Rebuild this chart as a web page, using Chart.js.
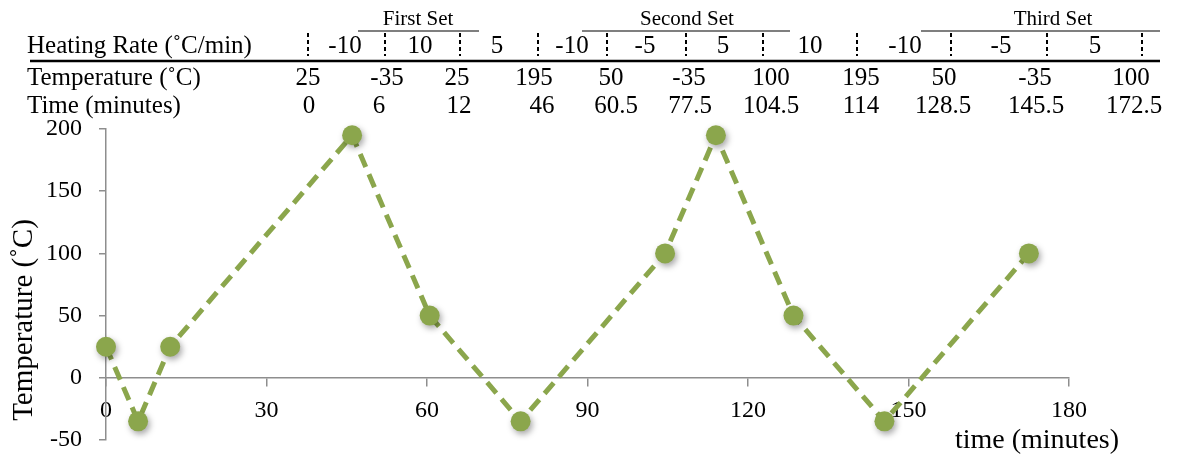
<!DOCTYPE html>
<html>
<head>
<meta charset="utf-8">
<title>Heating programme</title>
<script src="https://cdn.jsdelivr.net/npm/chart.js@4/dist/chart.umd.min.js"></script>
<style>
  html, body { margin: 0; padding: 0; background: #ffffff; }
  #wrap { position: relative; width: 1177px; height: 455px; }
</style>
</head>
<body>
<div id="wrap"><canvas id="chart" width="1177" height="455"></canvas></div>
<script>
// Temperature programme: time (min) and temperature (°C) at each step
const times = [0, 6, 12, 46, 60.5, 77.5, 104.5, 114, 128.5, 145.5, 172.5];
const temps = [25, -35, 25, 195, 50, -35, 100, 195, 50, -35, 100];
// Heating rate (°C/min) of each segment between steps
const rates = ['-10', '10', '5', '-10', '-5', '5', '10', '-10', '-5', '5'];
// Grouping headers over the rate row
const setNames = ['First Set', 'Second Set', 'Third Set'];
const rowLabels = ['Heating Rate (\u02DAC/min)', 'Temperature (\u02DAC)', 'Time (minutes)'];
const xTicks = [0, 30, 60, 90, 120, 150, 180];
const yTicks = [-50, 0, 50, 100, 150, 200];
const xTitle = 'time (minutes)';
const yTitle = 'Temperature (\u02DAC)';

// ---- layout of the header table (pixels) ----
const TABLE = {
  labelX: 27,
  rowY: [46, 78, 106],
  rateX: [345, 420, 497, 572, 645, 723, 810, 905, 1001, 1095],
  sepX: [308, 385, 460, 538, 607, 686, 763, 857, 951, 1047, 1142],
  tempX: [308, 387, 457, 534, 611, 689, 771, 861, 944, 1035, 1131],
  timeX: [309, 379, 459, 542, 616, 690, 771, 861, 943, 1036, 1134],
  setSpan: [[358, 479], [582, 790], [921, 1160]],
  setX: [418, 687, 1053],
  setY: 19,
  spanY: 31,
  ruleY: 61,
  ruleX: [30, 1160],
  sepTop: 33,
  sepBottom: 56
};

const FONT = '"Liberation Serif", "Times New Roman", serif';
const green = '#8ba64c';
const axisGrey = '#8e8e8e';

const headerTable = {
  id: 'headerTable',
  afterDraw(chart) {
    const ctx = chart.ctx;
    ctx.save();
    ctx.fillStyle = '#000';
    ctx.strokeStyle = '#000';
    ctx.textBaseline = 'middle';

    // row labels
    ctx.font = '25px ' + FONT;
    ctx.textAlign = 'left';
    rowLabels.forEach((t, i) => ctx.fillText(t, TABLE.labelX, TABLE.rowY[i]));

    // heating rates
    ctx.textAlign = 'center';
    rates.forEach((r, i) => ctx.fillText(r, TABLE.rateX[i], TABLE.rowY[0]));
    // temperature and time values
    temps.forEach((v, i) => ctx.fillText(String(v), TABLE.tempX[i], TABLE.rowY[1]));
    times.forEach((v, i) => ctx.fillText(String(v), TABLE.timeX[i], TABLE.rowY[2]));

    // set headers with their spans
    ctx.font = '21px ' + FONT;
    setNames.forEach((s, i) => ctx.fillText(s, TABLE.setX[i], TABLE.setY));
    ctx.lineWidth = 1.2;
    TABLE.setSpan.forEach(([a, b]) => {
      ctx.beginPath();
      ctx.moveTo(a, TABLE.spanY);
      ctx.lineTo(b, TABLE.spanY);
      ctx.stroke();
    });

    // dashed separators between rates
    ctx.lineWidth = 2;
    ctx.setLineDash([4, 3]);
    TABLE.sepX.forEach(x => {
      ctx.beginPath();
      ctx.moveTo(x, TABLE.sepTop);
      ctx.lineTo(x, TABLE.sepBottom);
      ctx.stroke();
    });
    ctx.setLineDash([]);

    // heavy rule under the rate row
    ctx.lineWidth = 2.5;
    ctx.beginPath();
    ctx.moveTo(TABLE.ruleX[0], TABLE.ruleY);
    ctx.lineTo(TABLE.ruleX[1], TABLE.ruleY);
    ctx.stroke();

    // axis titles
    ctx.font = '28px ' + FONT;
    ctx.textAlign = 'center';
    ctx.fillText(xTitle, 1037, 441);
    ctx.translate(24, 320);
    ctx.rotate(-Math.PI / 2);
    ctx.font = '29px ' + FONT;
    ctx.fillText(yTitle, 0, 0);
    ctx.restore();
  }
};

// soft drop shadow under the markers only
const markerShadow = {
  id: 'markerShadow',
  beforeDatasetDraw(chart, args) {
    if (args.index !== 1) return;
    const ctx = chart.ctx;
    ctx.save();
    ctx.shadowColor = 'rgba(0,0,0,0.35)';
    ctx.shadowBlur = 6;
    ctx.shadowOffsetX = 2;
    ctx.shadowOffsetY = 3;
  },
  afterDatasetDraw(chart, args) {
    if (args.index !== 1) return;
    chart.ctx.restore();
  }
};

// axes are placed by the layout padding alone, without label overhang
function noOverhang(s) {
  s.paddingTop = 0;
  s.paddingBottom = 0;
  s.paddingLeft = 0;
  s.paddingRight = 0;
}

const points = times.map((t, i) => ({ x: t, y: temps[i] }));

new Chart(document.getElementById('chart'), {
  type: 'scatter',
  data: {
    datasets: [
      {
        data: points,
        showLine: true,
        borderColor: green,
        borderWidth: 5,
        borderDash: [14, 8],
        pointRadius: 0,
        fill: false,
        clip: false,
        order: 2
      },
      {
        data: points,
        showLine: false,
        pointRadius: 10,
        pointBackgroundColor: green,
        pointBorderColor: green,
        pointBorderWidth: 0,
        clip: false,
        order: 1
      }
    ]
  },
  options: {
    responsive: false,
    animation: false,
    devicePixelRatio: 1,
    layout: { padding: { left: 0, right: 108, top: 129, bottom: 15 } },
    plugins: {
      legend: { display: false },
      tooltip: { enabled: false }
    },
    scales: {
      x: {
        type: 'linear',
        min: 0,
        max: 180,
        position: { y: 0 },
        afterBuildTicks: s => { s.ticks = xTicks.map(v => ({ value: v })); },
        afterFit: s => { s.height = 0; noOverhang(s); },
        ticks: {
          color: '#000',
          font: { family: FONT, size: 24 },
          padding: 11,
          maxRotation: 0
        },
        grid: {
          drawOnChartArea: false,
          drawTicks: true,
          tickLength: 8,
          color: axisGrey,
          lineWidth: 1.5
        },
        border: { color: axisGrey, width: 1.5 }
      },
      y: {
        type: 'linear',
        min: -50,
        max: 200,
        afterBuildTicks: s => { s.ticks = yTicks.map(v => ({ value: v })); },
        afterFit: s => { s.width = 106; noOverhang(s); },
        ticks: {
          color: '#000',
          font: { family: FONT, size: 24 },
          padding: 17
        },
        grid: {
          drawOnChartArea: false,
          drawTicks: true,
          tickLength: 7,
          color: axisGrey,
          lineWidth: 1.5
        },
        border: { color: axisGrey, width: 1.5 }
      }
    }
  },
  plugins: [headerTable, markerShadow]
});
</script>
</body>
</html>
